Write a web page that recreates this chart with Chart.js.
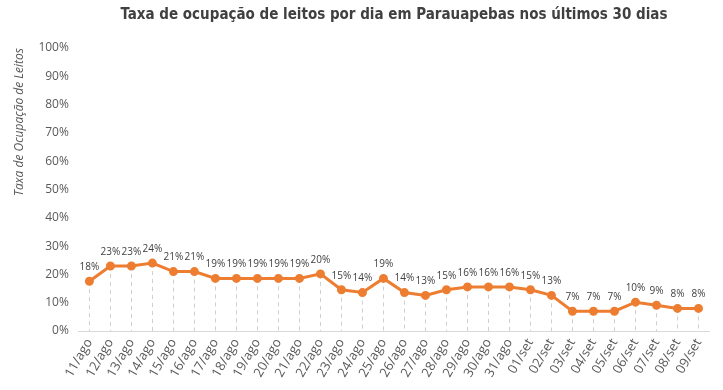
<!DOCTYPE html>
<html>
<head>
<meta charset="utf-8">
<script src="https://cdn.jsdelivr.net/npm/chart.js@4/dist/chart.umd.min.js"></script>
<style>
  html, body { margin: 0; padding: 0; background: #fff; }
  #wrap { width: 723px; height: 390px; }
</style>
</head>
<body>
<div id="wrap"><canvas id="grafico" width="723" height="390"></canvas></div>
<script>
// Dados do gráfico
const dias = ['11/ago','12/ago','13/ago','14/ago','15/ago','16/ago','17/ago','18/ago','19/ago','20/ago',
  '21/ago','22/ago','23/ago','24/ago','25/ago','26/ago','27/ago','28/ago','29/ago','30/ago',
  '31/ago','01/set','02/set','03/set','04/set','05/set','06/set','07/set','08/set','09/set'];
const ocupacao = [17.6, 23.0, 23.0, 24.0, 21.0, 21.0, 18.6, 18.6, 18.6, 18.6,
  18.6, 20.2, 14.6, 13.6, 18.6, 13.6, 12.6, 14.6, 15.6, 15.6,
  15.6, 14.6, 12.6, 7.0, 7.0, 7.0, 10.2, 9.1, 8.0, 8.0];
const ticksY = [0, 10, 20, 30, 40, 50, 60, 70, 80, 90, 100];

const cinza = '#595959';
const laranja = '#ED7D31';

// Linhas tracejadas do ponto até o eixo e rótulos de valor
const plugLinhas = {
  id: 'linhasQueda',
  beforeDatasetsDraw(chart) {
    const ctx = chart.ctx;
    const meta = chart.getDatasetMeta(0);
    const base = chart.scales.y.getPixelForValue(0);
    ctx.save();
    ctx.strokeStyle = '#cfcfcf';
    ctx.lineWidth = 1;
    ctx.setLineDash([4, 4]);
    meta.data.forEach(p => {
      ctx.beginPath();
      ctx.moveTo(Math.round(p.x) + 0.5, p.y);
      ctx.lineTo(Math.round(p.x) + 0.5, base);
      ctx.stroke();
    });
    ctx.restore();
  },
  afterDatasetsDraw(chart) {
    const ctx = chart.ctx;
    const meta = chart.getDatasetMeta(0);
    ctx.save();
    ctx.fillStyle = '#404040';
    ctx.font = '10px "Open Sans"';
    ctx.textAlign = 'center';
    ctx.textBaseline = 'bottom';
    meta.data.forEach((p, i) => {
      ctx.fillText(Math.round(ocupacao[i]) + '%', p.x, p.y - 9);
    });
    ctx.restore();
  }
};

new Chart(document.getElementById('grafico'), {
  type: 'line',
  data: {
    labels: dias,
    datasets: [{
      label: 'Taxa de ocupação',
      data: ocupacao,
      borderColor: laranja,
      backgroundColor: laranja,
      borderWidth: 3,
      pointRadius: 3,
      pointBackgroundColor: laranja,
      pointBorderColor: laranja,
      tension: 0
    }]
  },
  options: {
    responsive: false,
    animation: false,
    layout: { padding: { left: 12, right: 14, top: 4, bottom: 5 } },
    plugins: {
      legend: { display: false },
      tooltip: { enabled: false },
      title: {
        display: true,
        fullSize: false,
        text: 'Taxa de ocupação de leitos por dia em Parauapebas nos últimos 30 dias',
        color: '#404040',
        font: { family: '"DejaVu Sans Condensed", "DejaVu Sans"', size: 15, weight: 'bold' },
        padding: { top: 2, bottom: 24 }
      }
    },
    scales: {
      x: {
        offset: true,
        grid: { display: false, drawTicks: false },
        border: { display: true, color: '#d9d9d9', width: 1 },
        ticks: {
          color: cinza,
          font: { family: '"Open Sans"', size: 13 },
          minRotation: 60,
          maxRotation: 60,
          autoSkip: false,
          padding: 5
        }
      },
      y: {
        min: 0,
        max: 100,
        grid: { display: false, drawTicks: false },
        border: { display: false },
        afterBuildTicks(axis) {
          axis.ticks = ticksY.map(v => ({ value: v }));
        },
        ticks: {
          color: cinza,
          font: { family: '"Open Sans"', size: 12 },
          padding: 10,
          callback: v => v + '%'
        },
        title: {
          display: true,
          align: 'end',
          text: 'Taxa de Ocupação de Leitos',
          color: cinza,
          font: { family: '"Open Sans"', size: 12, style: 'italic' },
          padding: { top: 0, bottom: 2 }
        }
      }
    }
  },
  plugins: [plugLinhas]
});
</script>
</body>
</html>
